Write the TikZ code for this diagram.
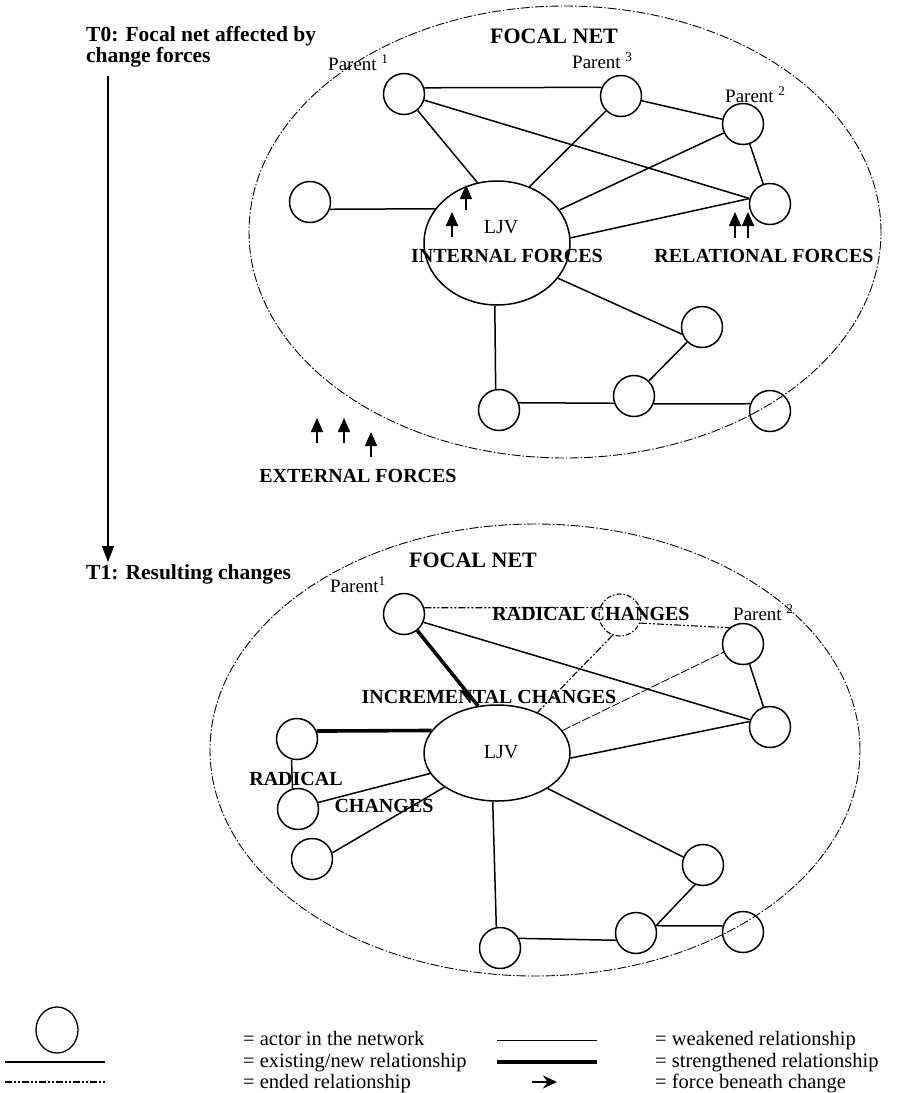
\documentclass[tikz,border=0pt]{standalone}
\usepackage{fontspec}
\setmainfont{Liberation Serif}
\usetikzlibrary{arrows.meta,shapes.geometric}

\begin{document}
\begin{tikzpicture}[x=1pt,y=-1pt,
  actor/.style={circle,draw,line width=1.5pt,minimum size=41pt,inner sep=0pt},
  endedactor/.style={circle,draw,line width=1.1pt,minimum size=42pt,inner sep=0pt,
    dash pattern=on 5pt off 2pt on 1.5pt off 2pt},
  venture/.style={ellipse,draw,line width=1.5pt,inner sep=0pt,minimum width=146pt},
  netborder/.style={ellipse,draw,line width=0.9pt,inner sep=0pt,
    dash pattern=on 9pt off 2pt on 1.5pt off 2pt},
  rel/.style={line width=1.5pt},
  strong/.style={line width=3.6pt},
  weak/.style={line width=0.8pt,dash pattern=on 9pt off 2pt},
  ended/.style={line width=1.1pt,dash pattern=on 7pt off 2pt on 2pt off 2pt on 2pt off 2pt},
  force/.style={line width=1.6pt,-{Triangle[length=14pt,width=12pt]}},
  timeline/.style={line width=1.4pt,-{Triangle[length=16pt,width=12pt]}},
  stage/.style={font=\fontsize{21.5}{23}\selectfont\bfseries,inner sep=0pt,anchor=base west},
  netname/.style={font=\fontsize{22}{24}\selectfont\bfseries,inner sep=0pt,anchor=base},
  tag/.style={font=\fontsize{20}{22}\selectfont\bfseries,inner sep=0pt,anchor=base},
  parent/.style={font=\fontsize{19}{21}\selectfont,inner sep=0pt,anchor=base west},
  vname/.style={font=\fontsize{20}{22}\selectfont,inner sep=0pt,anchor=base},
  keytext/.style={font=\fontsize{20.5}{22}\selectfont,inner sep=0pt,anchor=base west}
]
\useasboundingbox (0,0) rectangle (906,1093);

% ---------- time axis ----------
\node[stage] (t0a) at (86,41) {T0: Focal net affected by};
\node[stage] (t0b) at (86,62) {change forces};
\node[stage] (t1) at (86,579) {T1: Resulting changes};
\coordinate (axisTop) at (108,76);
\coordinate (axisEnd) at (108,562);
\draw[timeline] (axisTop) -- (axisEnd);

% ---------- T0 network ----------
\node[netborder,minimum width=632pt,minimum height=452pt] (net0) at (565,232) {};
\node[netname] (fn0) at (554,43) {FOCAL NET};

\node[actor] (tP1) at (404,94) {};
\node[actor] (tP3) at (621,96) {};
\node[actor] (tP2) at (743,124) {};
\node[actor] (tR)  at (770,204) {};
\node[actor] (tL)  at (310,202) {};
\node[venture,minimum height=124pt] (tV) at (497,243) {};
\node[actor] (tB4) at (702,327) {};
\node[actor] (tB1) at (499,410) {};
\node[actor] (tB2) at (634,396) {};
\node[actor] (tB3) at (770,411) {};

\draw[rel] (tP1.17) -- (tP3.156);
\draw[rel] (tP1) -- (tR.165);
\draw[rel] (tP1) -- (tV.108);
\draw[rel] (tP3) -- (tP2);
\draw[rel] (tP3) -- (tV.60);
\draw[rel] (tP2) -- (tR);
\draw[rel] (tV.28) -- (tP2);
\draw[rel] (tV.4) -- (tR.165);
\draw[rel] (tL.-20) -- (tV.151);
\draw[rel] (tV.-30) -- (tB4.200);
\draw[rel] (tV.268) -- (tB1.99);
\draw[rel] (tB1.20) -- (tB2.200);
\draw[rel] (tB2.-22) -- (tB3.160);
\draw[rel] (tB2) -- (tB4);

\node[parent] (tP1l) at (328,70) {Parent \textsuperscript{1}};
\node[parent] (tP3l) at (572,68) {Parent \textsuperscript{3}};
\node[parent] (tP2l) at (725,102) {Parent \textsuperscript{2}};
\node[vname] (tVl) at (501,233) {LJV};
\node[tag] (intf) at (507,262) {INTERNAL FORCES};
\node[tag] (relf) at (764,262) {RELATIONAL FORCES};
\node[tag] (extf) at (358,482) {EXTERNAL FORCES};

% change forces
\draw[force] (452,237) -- ++(0,-25);
\draw[force] (466,210) -- ++(0,-25);
\draw[force] (735,238) -- ++(0,-26);
\draw[force] (748,238) -- ++(0,-26);
\draw[force] (317,443) -- ++(0,-25);
\draw[force] (344,443) -- ++(0,-25);
\draw[force] (371,457) -- ++(0,-25);

% ---------- T1 network ----------
\node[netborder,minimum width=650pt,minimum height=452pt] (net1) at (535,750) {};
\node[netname] (fn1) at (473,567) {FOCAL NET};

\node[actor] (bP1) at (404,614) {};
\node[endedactor] (bX) at (620,615) {};
\node[actor] (bP2) at (743,644) {};
\node[actor] (bR)  at (770,727) {};
\node[venture,minimum height=96pt] (bV) at (497,753) {};
\node[actor] (bLA) at (297,739) {};
\node[actor] (bLB) at (298,809) {};
\node[actor] (bLC) at (312,859) {};
\node[actor] (bB4) at (703,865) {};
\node[actor] (bB2) at (636,933) {};
\node[actor] (bB3) at (743,932) {};
\node[actor] (bB1) at (500,948) {};

\draw[ended] (bP1.17) -- (bX.160);
\draw[ended] (bX.-22) -- (bP2.130);
\draw[ended] (bX.250) -- (bV.45);
\draw[strong] (bP1) -- (bV.112);
\draw[rel] (bP1.-23) -- (bR.160);
\draw[weak] (bV.19) -- (bP2.203);
\draw[rel] (bV.-4) -- (bR.165);
\draw[rel] (bP2) -- (bR);
\draw[strong] (bLA.22) -- (bV.161);
\draw[rel] (bLA.255) -- (bLB.105);
\draw[rel] (bLB.18) -- (bV.197);
\draw[rel] (bLC.17) -- (bV.213);
\draw[rel] (bV.265) -- (bB1.100);
\draw[rel] (bV.-35) -- (bB4.158);
\draw[rel] (bB1.27) -- (bB2.200);
\draw[rel] (bB2.20) -- (bB4.248);
\draw[rel] (bB2.20) -- (bB3.163);

\node[parent] (bP1l) at (330,592) {Parent\textsuperscript{1}};
\node[parent] (bP2l) at (733,620) {Parent \textsuperscript{2}};
\node[vname] (bVl) at (501,758) {LJV};
\node[tag] (radA) at (591,620) {RADICAL CHANGES};
\node[tag] (incr) at (489,703) {INCREMENTAL CHANGES};
\node[tag] (radB1) at (296,785) {RADICAL};
\node[tag] (radB2) at (384,812) {CHANGES};

% ---------- key ----------
\node[draw,ellipse,line width=1.3pt,minimum width=42pt,minimum height=46pt,inner sep=0pt] (keyActor) at (57,1030) {};
\coordinate (kRelA) at (5,1062);   \coordinate (kRelB) at (105,1062);
\coordinate (kEndA) at (5,1082);   \coordinate (kEndB) at (105,1082);
\coordinate (kWeakA) at (497,1040); \coordinate (kWeakB) at (597,1040);
\coordinate (kStrA) at (497,1062);  \coordinate (kStrB) at (597,1062);
\coordinate (kForA) at (532,1082);  \coordinate (kForB) at (557,1082);
\draw[rel] (kRelA) -- (kRelB);
\draw[ended] (kEndA) -- (kEndB);
\draw[line width=0.8pt] (kWeakA) -- (kWeakB);
\draw[line width=4.5pt] (kStrA) -- (kStrB);
\draw[line width=1.6pt,-{Stealth[length=14pt,width=13pt]}] (kForA) -- (kForB);

\node[keytext] (k1) at (243,1045) {= actor in the network};
\node[keytext] (k2) at (243,1067) {= existing/new relationship};
\node[keytext] (k3) at (243,1088) {= ended relationship};
\node[keytext] (k4) at (655,1045) {= weakened relationship};
\node[keytext] (k5) at (655,1067) {= strengthened relationship};
\node[keytext] (k6) at (655,1088) {= force beneath change};
\end{tikzpicture}
\end{document}
